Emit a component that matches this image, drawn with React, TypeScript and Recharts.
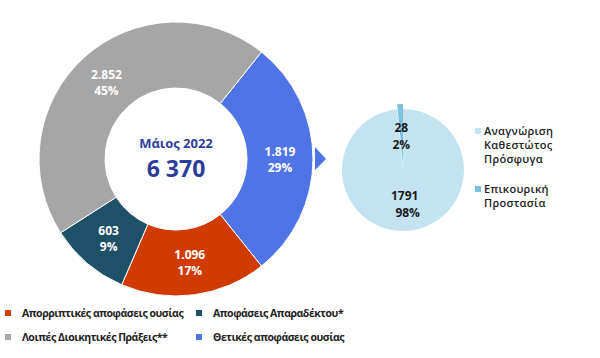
import React from "react";
import { PieChart, Pie, Cell } from "recharts";

// ---- data ----
const donutNames = [
  "Θετικές αποφάσεις ουσίας",
  "Απορριπτικές αποφάσεις ουσίας",
  "Αποφάσεις Απαραδέκτου*",
  "Λοιπές Διοικητικές Πράξεις**",
];
const donutValues = [1819, 1096, 603, 2852];
const donutValueLabels = ["1.819", "1.096", "603", "2.852"];
const donutPctLabels = ["29%", "17%", "9%", "45%"];
const donutColors = ["#4f74e6", "#cf3b00", "#1e5068", "#a6a6a6"];

const pieNames = ["Αναγνώριση Καθεστώτος Πρόσφυγα", "Επικουρική Προστασία"];
const pieValues = [1791, 28];
const pieValueLabels = ["1791", "28"];
const piePctLabels = ["98%", "2%"];
const pieColors = ["#c4e3f1", "#7cc2e0"];

const centerTitle = "Μάιος 2022";
const centerTotal = "6 370";

const legendLeft = [
  { name: "Απορριπτικές αποφάσεις ουσίας", color: "#cf3b00" },
  { name: "Αποφάσεις Απαραδέκτου*", color: "#1e5068" },
  { name: "Λοιπές Διοικητικές Πράξεις**", color: "#a6a6a6" },
  { name: "Θετικές αποφάσεις ουσίας", color: "#4f74e6" },
];
const legendRight = [
  { lines: ["Αναγνώριση", "Καθεστώτος", "Πρόσφυγα"], color: "#c4e3f1" },
  { lines: ["Επικουρική", "Προστασία"], color: "#7cc2e0" },
];

const donutData = donutNames.map((n, i) => ({ name: n, value: donutValues[i] }));
const pieData = pieNames.map((n, i) => ({ name: n, value: pieValues[i] }));

// ---- layout ----
const W = 600;
const H = 358;
const D_CX = 176;
const D_CY = 159;
const D_IN = 71;
const D_OUT = 137;
const P_CX = 403;
const P_CY = 170;
const P_R = 61;
const EXPLODE = 5;
const FONT = "'Open Sans', 'DejaVu Sans', sans-serif";
const RAD = Math.PI / 180;

const donutLabel = (props: any) => {
  const { cx, cy, midAngle, innerRadius, outerRadius, index } = props;
  const r = (innerRadius + outerRadius) / 2;
  const x = cx + r * Math.cos(-midAngle * RAD);
  const y = cy + r * Math.sin(-midAngle * RAD);
  return (
    <text x={x} y={y} fill="#fff" textAnchor="middle" fontFamily={FONT} fontWeight={700} fontSize={12}>
      <tspan x={x} dy={-3}>{donutValueLabels[index]}</tspan>
      <tspan x={x} dy={16}>{donutPctLabels[index]}</tspan>
    </text>
  );
};

const pieLabel = (props: any) => {
  const { cx, cy, midAngle, outerRadius, index } = props;
  const r = outerRadius * 0.56;
  const x = cx + r * Math.cos(-midAngle * RAD);
  const y = cy + r * Math.sin(-midAngle * RAD);
  return (
    <text x={x} y={y} fill="#1a1a1a" textAnchor="middle" fontFamily={FONT} fontWeight={700} fontSize={12}>
      <tspan x={x} dy={-4}>{pieValueLabels[index]}</tspan>
      <tspan x={x + (index === 0 ? 3 : 0)} dy={17}>{piePctLabels[index]}</tspan>
    </text>
  );
};

export default function App() {
  return (
    <div style={{ position: "absolute", left: 0, top: 0, width: W, height: H, background: "#fff" }}>
      <PieChart width={W} height={H} margin={{ top: 0, right: 0, bottom: 0, left: 0 }}>
        <Pie
          data={donutData}
          dataKey="value"
          nameKey="name"
          cx={D_CX}
          cy={D_CY}
          innerRadius={D_IN}
          outerRadius={D_OUT}
          startAngle={51.4}
          endAngle={51.4 - 360}
          stroke="#ffffff"
          strokeWidth={1}
          label={donutLabel}
          labelLine={false}
          isAnimationActive={false}
        >
          {donutData.map((d, i) => (
            <Cell key={d.name} fill={donutColors[i]} />
          ))}
        </Pie>
        <Pie
          data={pieData}
          dataKey="value"
          nameKey="name"
          cx={P_CX}
          cy={P_CY}
          innerRadius={0}
          outerRadius={P_R}
          startAngle={90}
          endAngle={-270}
          stroke="none"
          label={false}
          isAnimationActive={false}
        >
          {pieData.map((d, i) => (
            <Cell key={d.name} fill={i === 0 ? pieColors[0] : "transparent"} />
          ))}
        </Pie>
        <Pie
          data={pieData}
          dataKey="value"
          nameKey="name"
          cx={P_CX}
          cy={P_CY - EXPLODE}
          innerRadius={0}
          outerRadius={P_R}
          startAngle={90}
          endAngle={-270}
          stroke="none"
          label={false}
          isAnimationActive={false}
        >
          {pieData.map((d, i) => (
            <Cell key={d.name} fill={i === 1 ? pieColors[1] : "transparent"} />
          ))}
        </Pie>
        <Pie
          data={pieData}
          dataKey="value"
          nameKey="name"
          cx={P_CX}
          cy={P_CY}
          innerRadius={0}
          outerRadius={P_R}
          startAngle={90}
          endAngle={-270}
          fill="transparent"
          stroke="none"
          label={pieLabel}
          labelLine={false}
          isAnimationActive={false}
        >
          {pieData.map((d) => (
            <Cell key={d.name} fill="transparent" />
          ))}
        </Pie>
      </PieChart>
      <svg width={W} height={H} style={{ position: "absolute", left: 0, top: 0, pointerEvents: "none" }}>
        <polygon
          points={`${D_CX + D_OUT + 2},${D_CY - 12} ${D_CX + D_OUT + 13},${D_CY} ${D_CX + D_OUT + 2},${D_CY + 11}`}
          fill="#4f74e6"
        />
        <text x={D_CX} y={D_CY - 11} textAnchor="middle" fill="#2f3f9e" fontFamily={FONT} fontWeight={700} fontSize={13}>
          {centerTitle}
        </text>
        <text x={D_CX} y={D_CY + 18} textAnchor="middle" fill="#2b3c9c" fontFamily={FONT} fontWeight={700} fontSize={23}>
          {centerTotal}
        </text>
      </svg>
      {legendLeft.map((l, i) => (
        <div
          key={l.name}
          style={{
            position: "absolute",
            left: i % 2 === 0 ? 5 : 196,
            top: i < 2 ? 306 : 330,
            display: "flex",
            alignItems: "center",
            fontFamily: FONT,
            fontWeight: 700,
            fontSize: 10.5,
            letterSpacing: "-0.45px",
            color: "#222",
            whiteSpace: "nowrap",
          }}
        >
          <span style={{ display: "inline-block", width: 6, height: 6, background: l.color, marginRight: 11 }} />
          {l.name}
        </div>
      ))}
      {legendRight.map((l, i) => (
        <div
          key={l.lines[0]}
          style={{
            position: "absolute",
            left: 475,
            top: i === 0 ? 124 : 182,
            fontFamily: FONT,
            fontWeight: 600,
            fontSize: 11,
            letterSpacing: "0.3px",
            lineHeight: "14px",
            color: "#222",
          }}
        >
          <span style={{ position: "absolute", left: 0, top: 4, width: 6, height: 6, background: l.color }} />
          {l.lines.map((t) => (
            <div key={t} style={{ paddingLeft: 9 }}>{t}</div>
          ))}
        </div>
      ))}
    </div>
  );
}
